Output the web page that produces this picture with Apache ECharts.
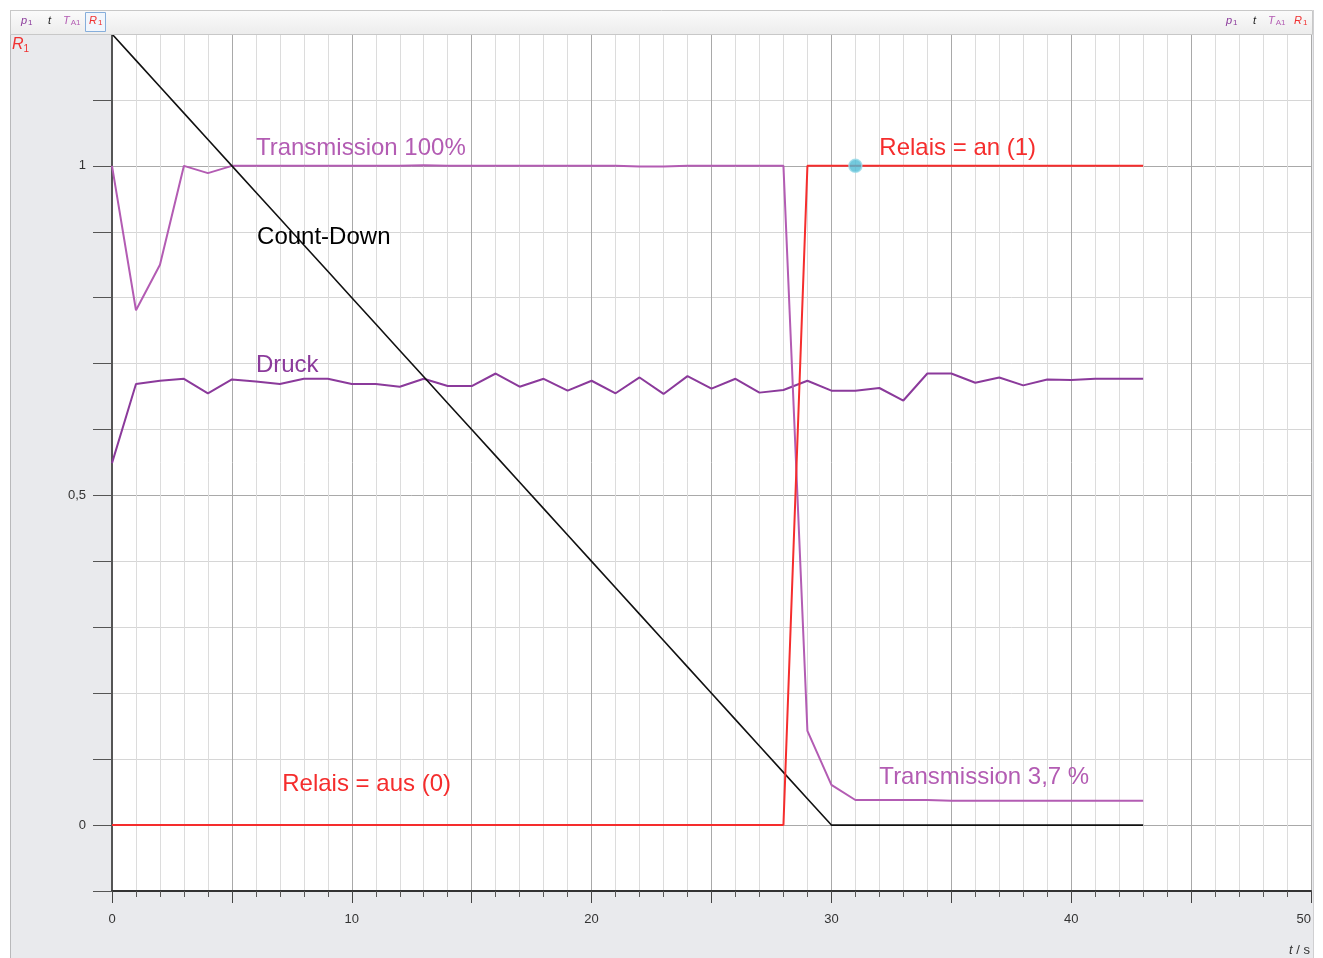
<!DOCTYPE html>
<html>
<head>
<meta charset="utf-8">
<script src="https://cdn.jsdelivr.net/npm/echarts@6/dist/echarts.min.js"></script>
<style>
html,body{margin:0;padding:0;background:#ffffff;width:1323px;height:958px;overflow:hidden;}
#panel{position:absolute;left:10px;top:10px;width:1302px;height:948px;background:#e9eaed;border-left:1px solid #b9b9bb;border-right:1px solid #d0d0d2;}
#chart{position:absolute;left:0;top:0;width:1323px;height:958px;}
</style>
</head>
<body>
<div id="panel"></div>
<div id="chart"></div>
<script>
// ---- data (time in s, values normalised) ----
const times = [0,1,2,3,4,5,6,7,8,9,10,11,12,13,14,15,16,17,18,19,20,21,22,23,24,25,26,27,28,29,30,31,32,33,34,35,36,37,38,39,40,41,42,43];
const transmission = [1.0,0.781,0.85,1.0,0.989,1.0,1.0,1.0,1.0,1.0,1.0,1.0,1.0,1.001,1.0,1.0,1.0,1.0,1.0,1.0,1.0,1.0,0.999,0.999,1.0,1.0,1.0,1.0,1.0,0.143,0.061,0.038,0.038,0.038,0.038,0.037,0.037,0.037,0.037,0.037,0.037,0.037,0.037,0.037];
const druck = [0.549,0.669,0.674,0.677,0.655,0.676,0.673,0.669,0.677,0.677,0.669,0.669,0.665,0.677,0.666,0.666,0.685,0.665,0.677,0.659,0.674,0.655,0.679,0.654,0.681,0.662,0.677,0.656,0.660,0.674,0.659,0.659,0.663,0.644,0.685,0.685,0.671,0.679,0.667,0.676,0.675,0.677,0.677,0.677];
const countdown = [1.2,1.16,1.12,1.08,1.04,1.0,0.96,0.92,0.88,0.84,0.8,0.76,0.72,0.68,0.64,0.6,0.56,0.52,0.48,0.44,0.4,0.36,0.32,0.28,0.24,0.2,0.16,0.12,0.08,0.04,0,0,0,0,0,0,0,0,0,0,0,0,0,0];
const relais = [0,0,0,0,0,0,0,0,0,0,0,0,0,0,0,0,0,0,0,0,0,0,0,0,0,0,0,0,0,1,1,1,1,1,1,1,1,1,1,1,1,1,1,1];
const markerPoint = [[31, 1]];
const xTickLabels = ['0','10','20','30','40','50'];
const yTickLabels = {'0':'0','0.5':'0,5','1':'1'};
const annotations = [
  {text:'Transmission 100%', t:6.0, v:1.027, color:'#b35cb3'},
  {text:'Count-Down', t:6.05, v:0.891, color:'#000000'},
  {text:'Druck', t:6.0, v:0.698, color:'#8b3a9b'},
  {text:'Relais = an (1)', t:32.0, v:1.026, color:'#f52d2d'},
  {text:'Relais = aus (0)', t:7.1, v:0.061, color:'#f52d2d'},
  {text:'Transmission 3,7 %', t:32.0, v:0.073, color:'#b35cb3'}
];
const headerLabels = [
  {main:'p', sub:'1', color:'#8b3a9b'},
  {main:'t', sub:'', color:'#222222'},
  {main:'T', sub:'A1', color:'#b35cb3'},
  {main:'R', sub:'1', color:'#f03030'}
];

const pairs = arr => times.map((t,i)=>[t, arr[i]]);
const FONT = '"Liberation Sans", Arial, sans-serif';

const chart = echarts.init(document.getElementById('chart'), null, {renderer:'canvas'});

const headerOffsets = [0, 27, 42, 68];
function headerTexts(x0){
  return headerLabels.map((h,i)=>({
    type:'text', left:x0 + headerOffsets[i], top:15, z:20,
    style:{
      text: h.sub ? '{m|'+h.main+'}{s|'+h.sub+'}' : '{m|'+h.main+'}',
      rich:{
        m:{fontSize:11, fontStyle:'italic', fill:h.color, fontFamily:FONT},
        s:{fontSize:8, fill:h.color, fontFamily:FONT, padding:[5,0,0,1]}
      }
    }
  }));
}

const baseGraphic = [
  {type:'rect', left:10, top:10, z:15, shape:{width:1302, height:24},
    style:{fill:new echarts.graphic.LinearGradient(0,0,0,1,[{offset:0,color:'#fbfbfb'},{offset:1,color:'#ececec'}]), stroke:'#c8c8c8', lineWidth:1}},
  {type:'rect', left:85, top:12, z:16, shape:{width:20, height:19},
    style:{fill:'#f1f6fc', stroke:'#86aedb', lineWidth:1}},
  ...headerTexts(21),
  ...headerTexts(1226),
  {type:'text', left:12, top:37, z:20,
    style:{text:'{R|R}{s|1}', rich:{
      R:{fontSize:16, fontStyle:'italic', fill:'#f03030', fontFamily:FONT},
      s:{fontSize:10, fill:'#f03030', fontFamily:FONT, padding:[8,0,0,0]}}}},
  {type:'text', right:13, top:944, z:20,
    style:{text:'{t|t} / s', fontSize:13, fill:'#333', fontFamily:FONT,
      rich:{t:{fontSize:13, fontStyle:'italic', fill:'#333', fontFamily:FONT}}}}
];

const option = {
  animation:false,
  backgroundColor:'transparent',
  grid:{left:112, right:12, top:34, bottom:67, show:true, backgroundColor:'#ffffff', borderWidth:0},
  xAxis:{
    type:'value', min:0, max:50, interval:5,
    axisLine:{onZero:false, lineStyle:{color:'#333', width:2}},
    axisTick:{show:true, length:12, lineStyle:{color:'#444', width:1}},
    minorTick:{show:true, splitNumber:5, length:6, lineStyle:{color:'#555', width:1}},
    splitLine:{show:true, lineStyle:{color:'#a9a9a9', width:1}},
    minorSplitLine:{show:true, lineStyle:{color:'#dcdcdc', width:1}},
    axisLabel:{margin:22, color:'#333', fontSize:13, fontFamily:FONT, alignMaxLabel:'right',
      formatter:v => xTickLabels.includes(String(v)) ? String(v) : ''}
  },
  yAxis:{
    type:'value', min:-0.1, max:1.2, interval:0.1,
    axisLine:{show:true, lineStyle:{color:'#555', width:2}},
    axisTick:{show:true, length:19, lineStyle:{color:'#555', width:1}},
    splitLine:{show:true, lineStyle:{color:['#d6d6d6','#a9a9a9','#d6d6d6','#d6d6d6','#d6d6d6'], width:1}},
    axisLabel:{margin:26, color:'#333', fontSize:13, fontFamily:FONT,
      formatter:v => { const k = String(Math.round(v*10)/10); return yTickLabels[k] || ''; }}
  },
  series:[
    {name:'Druck', type:'line', data:pairs(druck), showSymbol:false, lineStyle:{color:'#8b3a9b', width:2}, z:2},
    {name:'Transmission', type:'line', data:pairs(transmission), showSymbol:false, lineStyle:{color:'#b35cb3', width:2}, z:3},
    {name:'Count-Down', type:'line', data:pairs(countdown), showSymbol:false, lineStyle:{color:'#111', width:1.6}, z:4},
    {name:'Relais', type:'line', data:pairs(relais), showSymbol:false, lineStyle:{color:'#f52d2d', width:2}, z:5},
    {name:'Marker', type:'scatter', data:markerPoint, symbol:'circle', symbolSize:13,
      itemStyle:{color:'#4fbcd4', borderColor:'#9adbe9', borderWidth:1.5}, z:6}
  ],
  graphic: baseGraphic
};
chart.setOption(option);

// annotations placed through the axis scales
const annGraphics = annotations.map(a => {
  const p = chart.convertToPixel({gridIndex:0}, [a.t, a.v]);
  return {type:'text', x:p[0], y:p[1], z:25,
    style:{text:a.text, fill:a.color, fontSize:24, fontFamily:FONT, verticalAlign:'middle', align:'left'}};
});
chart.setOption({graphic: baseGraphic.concat(annGraphics)});
</script>
</body>
</html>
